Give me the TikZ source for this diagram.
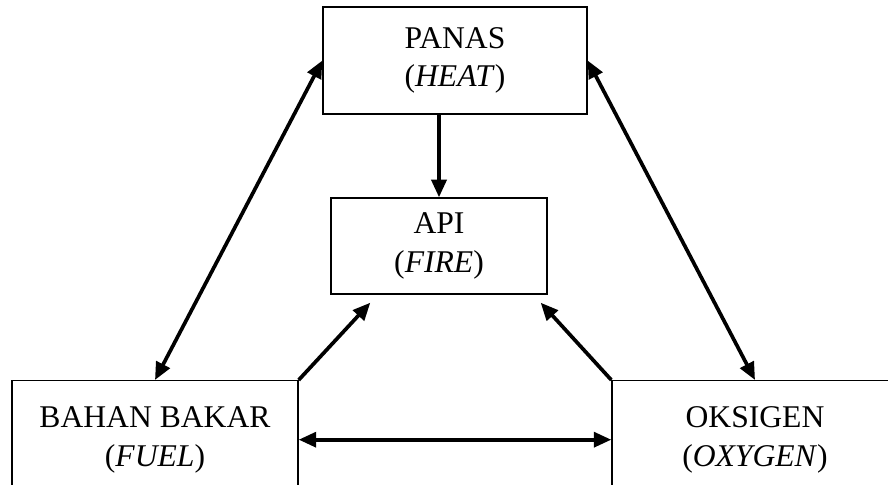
\documentclass[tikz,border=0pt]{standalone}
\usepackage{fontspec}
\setmainfont{Liberation Serif}
\usetikzlibrary{arrows.meta,positioning,calc}
\tikzset{
  blok/.style={draw, line width=0.8pt, align=center, font=\fontsize{18}{22}\selectfont, inner sep=0pt},
  pan/.style={line width=2.1pt, -{Triangle[length=10pt,width=8.5pt]}},
  pan2/.style={pan, {Triangle[length=10pt,width=8.5pt]}-{Triangle[length=10pt,width=8.5pt]}}
}
\begin{document}
\begin{tikzpicture}[x=0.02cm, y=0.02cm]
\useasboundingbox (0,0) rectangle (888,484);
\node[blok, minimum width=5.28cm, minimum height=2.14cm] (panas) at (455,423.5) {PANAS\\(\textit{HEAT})};
\node[blok, minimum width=4.32cm, minimum height=1.92cm] (api) at (439,238) {API\\(\textit{FIRE})};
\node[blok, minimum width=5.72cm, minimum height=2.36cm, anchor=north] (bahan) at (155,104) {BAHAN BAKAR\\(\textit{FUEL})};
\node[blok, minimum width=5.72cm, minimum height=2.36cm, anchor=north] (oksigen) at (755,104) {OKSIGEN\\(\textit{OXYGEN})};
\draw[pan] (api.north |- panas.south) -- (api.north);
\draw[pan2] (panas.west) -- (bahan.north);
\draw[pan2] (panas.east) -- (oksigen.north);
\draw[pan] (bahan.north east) -- ($(api.south west)+(40,-8)$);
\draw[pan] (oksigen.north west) -- ($(api.south east)+(-7,-8)$);
\draw[pan2] (bahan.east) -- (oksigen.west);
\end{tikzpicture}
\end{document}
